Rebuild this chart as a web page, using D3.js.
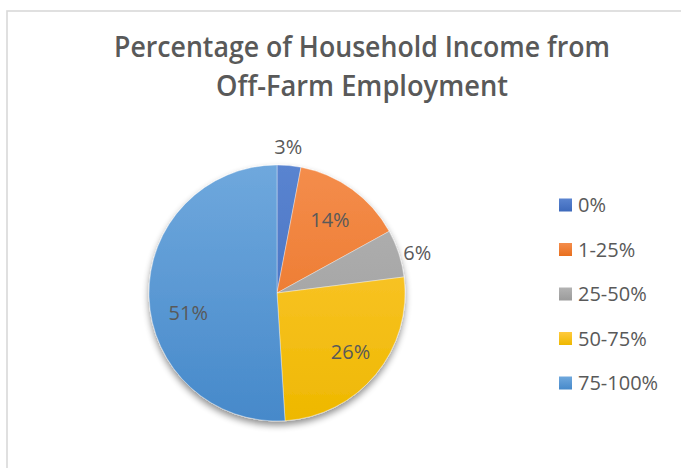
<!DOCTYPE html>
<html>
<head>
<meta charset="utf-8">
<script src="https://cdn.jsdelivr.net/npm/d3@7"></script>
<style>
  html, body { margin: 0; padding: 0; background: #fff; }
  svg { display: block; }
</style>
</head>
<body>
<svg id="chart" width="681" height="468"></svg>
<script>
// Share of household income earned off the farm
const categories = ["0%", "1-25%", "25-50%", "50-75%", "75-100%"];
const shares = [3, 14, 6, 26, 51];
const titleLines = ["Percentage of Household Income from", "Off-Farm Employment"];

// Slice colours: [top, bottom] of each vertical gradient
const sliceColors = [
  ["#5a84d0", "#3d69bb"],
  ["#f48d4c", "#e86f1e"],
  ["#b3b3b3", "#9b9b9b"],
  ["#ffca3e", "#eeb800"],
  ["#6fa8dd", "#4689ca"]
];

// Label placement: radius and angular nudge (degrees) per slice
const labelPlacement = [
  { r: 147, nudge: -1 },
  { r: 90,  nudge: 0 },
  { r: 146, nudge: 2 },
  { r: 94,  nudge: -1 },
  { r: 91,  nudge: -11 }
];

const svg = d3.select("#chart");
const W = 681, H = 468;
const cx = 277, cy = 293, R = 128;
const textColor = "#595959";
const font = "'Open Sans', 'Noto Sans', sans-serif";

svg.append("rect").attr("width", W).attr("height", H).attr("fill", "#fff");

// Chart area frame
svg.append("rect")
  .attr("x", 7).attr("y", 11)
  .attr("width", 720).attr("height", 520)
  .attr("fill", "none")
  .attr("stroke", "#d9d9d9")
  .attr("stroke-width", 1.6);

const defs = svg.append("defs");

const shadow = defs.append("filter").attr("id", "pieShadow")
  .attr("x", "-20%").attr("y", "-20%").attr("width", "140%").attr("height", "140%");
shadow.append("feGaussianBlur").attr("in", "SourceAlpha").attr("stdDeviation", 3.5).attr("result", "b");
shadow.append("feOffset").attr("in", "b").attr("dx", 0).attr("dy", 4).attr("result", "o");
shadow.append("feComponentTransfer").attr("in", "o").attr("result", "s")
  .append("feFuncA").attr("type", "linear").attr("slope", 0.45);
const merge = shadow.append("feMerge");
merge.append("feMergeNode").attr("in", "s");
merge.append("feMergeNode").attr("in", "SourceGraphic");

sliceColors.forEach((c, i) => {
  const g = defs.append("linearGradient").attr("id", "slice" + i)
    .attr("gradientUnits", "userSpaceOnUse")
    .attr("x1", 0).attr("x2", 0).attr("y1", -R).attr("y2", R);
  g.append("stop").attr("offset", "0%").attr("stop-color", c[0]);
  g.append("stop").attr("offset", "100%").attr("stop-color", c[1]);
  const lg = defs.append("linearGradient").attr("id", "key" + i)
    .attr("x1", 0).attr("x2", 0).attr("y1", 0).attr("y2", 1);
  lg.append("stop").attr("offset", "0%").attr("stop-color", c[0]);
  lg.append("stop").attr("offset", "100%").attr("stop-color", c[1]);
});

// Title
const titleWidths = [496, 292];
const titleBaselines = [57, 96];
svg.append("g").selectAll("text")
  .data(titleLines)
  .join("text")
  .attr("x", 362)
  .attr("y", (d, i) => titleBaselines[i])
  .attr("text-anchor", "middle")
  .attr("textLength", (d, i) => titleWidths[i])
  .attr("lengthAdjust", "spacingAndGlyphs")
  .attr("font-family", font)
  .attr("font-weight", 600)
  .attr("font-size", 28)
  .attr("fill", textColor)
  .text(d => d);

// Pie
const data = categories.map((c, i) => ({ category: c, value: shares[i], index: i }));
const pie = d3.pie().value(d => d.value).sort(null);
const arcs = pie(data);
const arc = d3.arc().innerRadius(0).outerRadius(R);

const pieG = svg.append("g")
  .attr("transform", `translate(${cx},${cy})`);

pieG.append("g")
  .attr("filter", "url(#pieShadow)")
  .selectAll("path")
  .data(arcs)
  .join("path")
  .attr("d", arc)
  .attr("fill", d => `url(#slice${d.data.index})`)
  .attr("stroke", "#ffffff")
  .attr("stroke-width", 0.6)
  .attr("stroke-opacity", 0.6);

// Data labels
pieG.append("g").selectAll("text")
  .data(arcs)
  .join("text")
  .attr("transform", d => {
    const p = labelPlacement[d.data.index];
    const a = (d.startAngle + d.endAngle) / 2 + p.nudge * Math.PI / 180;
    return `translate(${Math.sin(a) * p.r},${-Math.cos(a) * p.r})`;
  })
  .attr("text-anchor", "middle")
  .attr("dy", "0.36em")
  .attr("font-family", font)
  .attr("font-size", 20)
  .attr("fill", textColor)
  .text(d => d.data.value + "%");

// Legend
const legendY = d3.scalePoint().domain(categories).range([205, 383]);
const legend = svg.append("g").selectAll("g")
  .data(data)
  .join("g")
  .attr("transform", d => `translate(559,${legendY(d.category)})`);

legend.append("rect")
  .attr("x", 0).attr("y", -6.5)
  .attr("width", 13).attr("height", 13)
  .attr("fill", d => `url(#key${d.index})`);

legend.append("text")
  .attr("x", 19)
  .attr("dy", "0.36em")
  .attr("font-family", font)
  .attr("font-size", 20)
  .attr("fill", textColor)
  .text(d => d.category);
</script>
</body>
</html>
